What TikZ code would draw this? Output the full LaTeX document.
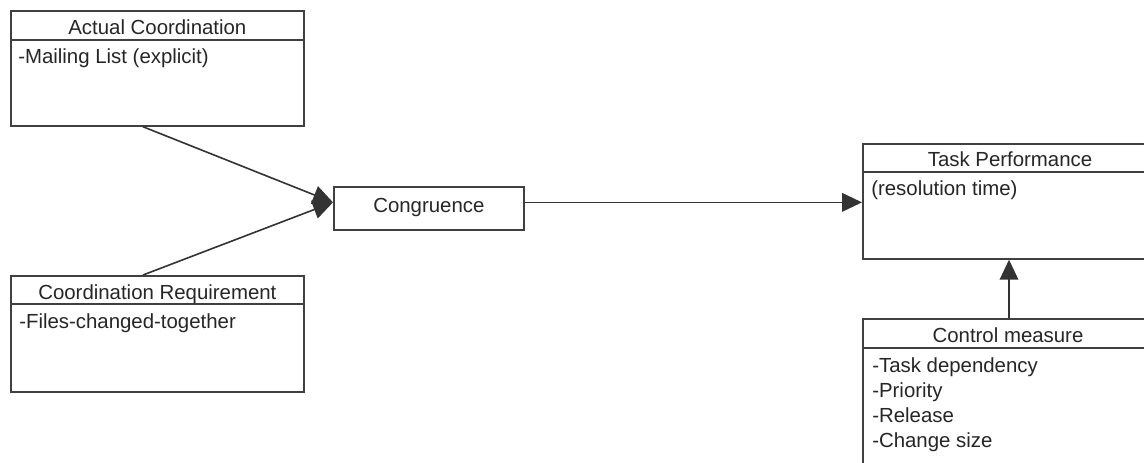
\documentclass[tikz,border=0pt]{standalone}
\usepackage{fontspec}
\setmainfont{Liberation Sans}
\usetikzlibrary{arrows.meta,calc}
\begin{document}
\begin{tikzpicture}[x=0.75pt,y=-0.75pt,
  umlbox/.style={draw=black!75, line width=1.3pt, rectangle, inner sep=0pt, anchor=north west, fill=none},
  umltext/.style={inner sep=0pt, anchor=base, text=black!85, font=\fontsize{15.3}{18}\selectfont},
  bodytext/.style={umltext, anchor=base west},
  divider/.style={draw=black!75, line width=1.3pt},
  conn/.style={draw=black!80, line width=1.2pt, -{Triangle[length=15pt,width=14pt]}}
]
\useasboundingbox (0,0) rectangle (1144,462);
\fill[white] (0,0) rectangle (1144,462);

% Actual Coordination
\node[umlbox, minimum width=219.75pt, minimum height=86.25pt] (ac) at (10,10) {};
\draw[divider] ($(ac.north west)+(0,30)$) -- ($(ac.north east)+(0,30)$);
\node[umltext] (actitle) at ($(ac.north)+(0,24)$) {Actual Coordination};
\node[bodytext] (acbody) at ($(ac.north west)+(8,53)$) {-Mailing List (explicit)};

% Coordination Requirement
\node[umlbox, minimum width=219.75pt, minimum height=87pt] (cr) at (10,275) {};
\draw[divider] ($(cr.north west)+(0,29)$) -- ($(cr.north east)+(0,29)$);
\node[umltext] (crtitle) at ($(cr.north)+(0,24)$) {Coordination Requirement};
\node[bodytext] (crbody) at ($(cr.north west)+(9,53)$) {-Files-changed-together};

% Congruence
\node[umlbox, minimum width=142.5pt, minimum height=32.25pt] (cong) at (333,186) {};
\node[umltext] (congtext) at ($(cong.north)+(0,26)$) {Congruence};

% Task Performance
\node[umlbox, minimum width=223.5pt, minimum height=86.25pt] (tp) at (862,143) {};
\draw[divider] ($(tp.north west)+(0,29)$) -- ($(tp.north east)+(0,29)$);
\node[umltext] (tptitle) at ($(tp.north west)+(148,23)$) {Task Performance};
\node[bodytext] (tpbody) at ($(tp.north west)+(9,52)$) {(resolution time)};

% Control measure
\node[umlbox, minimum width=223.5pt, minimum height=121.5pt] (cm) at (862,318) {};
\draw[divider] ($(cm.north west)+(0,30)$) -- ($(cm.north east)+(0,30)$);
\node[umltext] (cmtitle) at ($(cm.north west)+(146,24)$) {Control measure};
\node[bodytext] (cm1) at ($(cm.north west)+(10,54)$) {-Task dependency};
\node[bodytext] (cm2) at ($(cm.north west)+(10,79)$) {-Priority};
\node[bodytext] (cm3) at ($(cm.north west)+(10,104)$) {-Release};
\node[bodytext] (cm4) at ($(cm.north west)+(10,129)$) {-Change size};

% Connectors
\coordinate (congin) at ($(cong.west)+(0,-6)$);
\coordinate (congout) at ($(cong.east)+(0,-6)$);
\coordinate (acout) at ($(ac.south west)+(133,0)$);
\coordinate (crout) at ($(cr.north west)+(133,0)$);
\draw[conn] (acout) -- (congin);
\draw[conn] (crout) -- (congin);
\draw[conn] (congout) -- (congout -| tp.west);
\coordinate (cmtop) at ($(cm.north west)+(147,0)$);
\draw[conn] (cmtop) -- (cmtop |- tp.south);
\end{tikzpicture}
\end{document}
